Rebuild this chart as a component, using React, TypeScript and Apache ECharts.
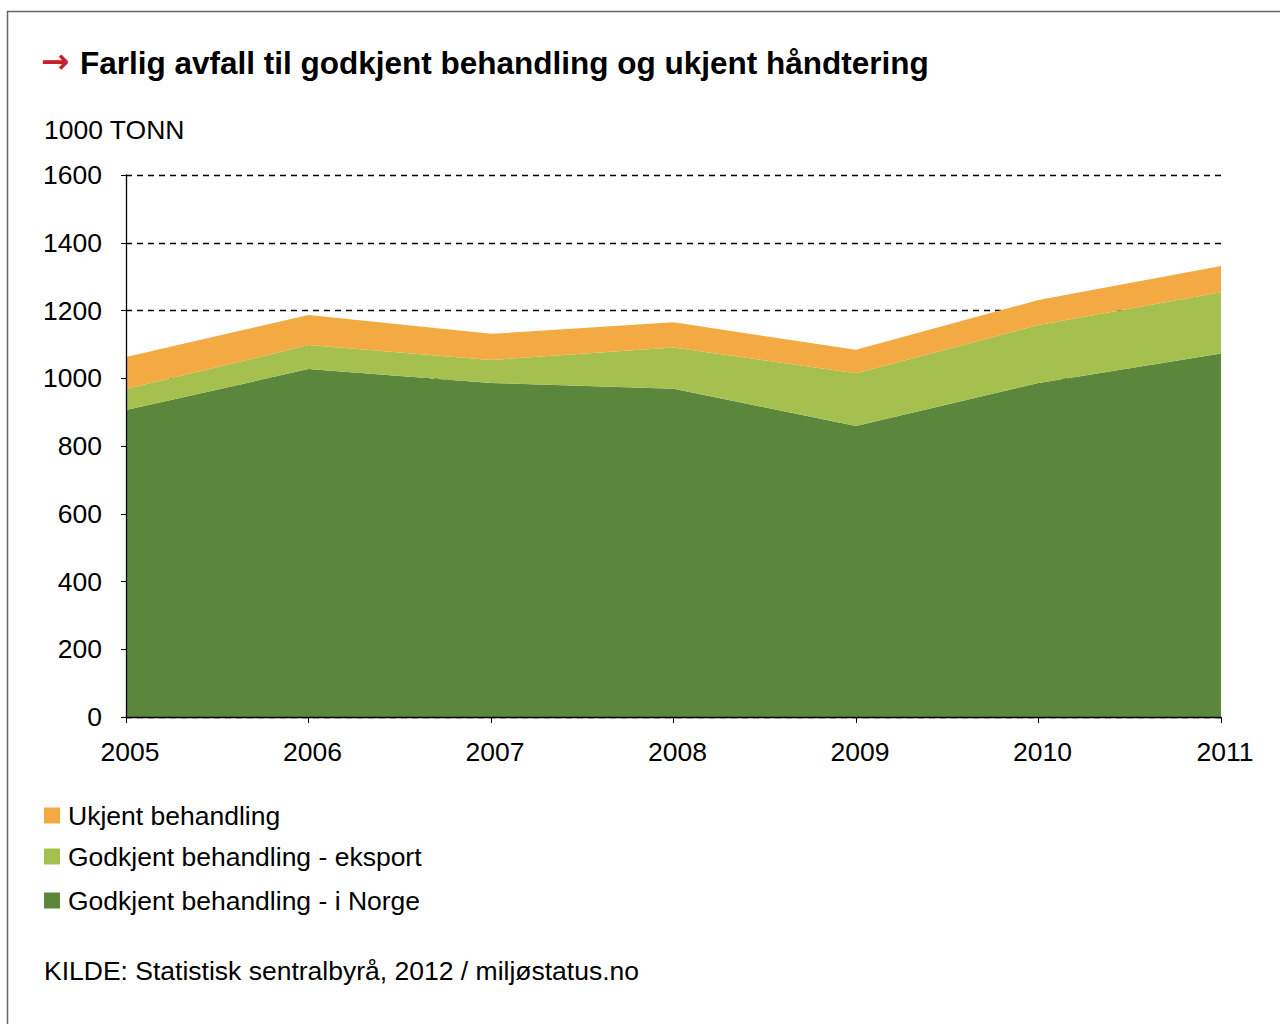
import React, { useEffect, useRef } from "react";
import * as echarts from "echarts";

const years = ["2005", "2006", "2007", "2008", "2009", "2010", "2011"];
const norge = [906, 1027, 986, 969, 859, 986, 1073];
const eksport = [62, 71, 68, 122, 156, 171, 181];
const ukjent = [95, 89, 77, 74, 69, 74, 77];
const yTicks = [0, 200, 400, 600, 800, 1000, 1200, 1400, 1600];

const seriesNames = [
  "Ukjent behandling",
  "Godkjent behandling - eksport",
  "Godkjent behandling - i Norge",
];
const colors = ["#F4AA42", "#A6C050", "#5B873D"];

const FONT = "'Liberation Sans', Arial, sans-serif";
const FS = 26.5;

export default function App() {
  const ref = useRef<HTMLDivElement>(null);
  useEffect(() => {
    if (!ref.current) return;
    const chart = echarts.init(ref.current, null, { renderer: "svg" });
    const legendTops = [802, 843, 887];
    const yMin = yTicks[0];
    const yMax = yTicks[yTicks.length - 1];
    chart.setOption({
      animation: false,
      backgroundColor: "#ffffff",
      textStyle: { fontFamily: FONT },
      grid: { left: 126, right: 59, top: 175, bottom: 307, containLabel: false },
      xAxis: {
        type: "category",
        data: years,
        boundaryGap: false,
        axisLine: { lineStyle: { color: "#000", width: 1.3 } },
        axisTick: { show: true, length: 6, lineStyle: { color: "#000" } },
        axisLabel: { color: "#000", fontSize: FS, margin: 21, fontFamily: FONT, padding: [0, 0, 0, 8] },
        splitLine: { show: false },
        z: 10,
      },
      yAxis: [
        {
          type: "value",
          min: yMin,
          max: yMax,
          interval: 200,
          axisLine: { show: false },
          axisTick: { show: false },
          axisLabel: { show: false },
          splitLine: { show: true, lineStyle: { color: "#000", type: [6, 5], width: 1.3 } },
          z: 0,
        },
        {
          type: "value",
          position: "left",
          min: yMin,
          max: yMax,
          interval: 200,
          axisLine: { show: true, lineStyle: { color: "#000", width: 1.3 } },
          axisTick: { show: true, length: 5, lineStyle: { color: "#000" } },
          axisLabel: {
            color: "#000",
            fontSize: FS,
            margin: 24,
            fontFamily: FONT,
            formatter: (v: number) => String(v),
          },
          splitLine: { show: false },
          z: 10,
        },
      ],
      legend: legendTops.map((t, i) => ({
        data: [seriesNames[i]],
        left: 44,
        top: t,
        icon: "rect",
        itemWidth: 16,
        itemHeight: 16,
        itemGap: 8,
        padding: 0,
        textStyle: { fontSize: FS, color: "#000", fontFamily: FONT, padding: [0, 0, 0, 3] },
        selectedMode: false,
      })),
      graphic: [
        {
          type: "rect",
          shape: { x: 7.5, y: 11.5, width: 1400, height: 1200 },
          style: { fill: "none", stroke: "#666", lineWidth: 1.5 },
          silent: true,
        },
        {
          type: "text",
          left: 41,
          top: 44,
          style: { text: "\u2192", fill: "#C8202A", font: `bold 34px 'DejaVu Sans', sans-serif` },
        },
        {
          type: "text",
          left: 80,
          top: 47,
          style: {
            text: "Farlig avfall til godkjent behandling og ukjent håndtering",
            fill: "#000",
            font: `bold 31.5px ${FONT}`,
          },
        },
        {
          type: "text",
          left: 44,
          top: 116,
          style: { text: "1000 TONN", fill: "#000", font: `${FS}px ${FONT}` },
        },
        {
          type: "text",
          left: 44,
          top: 957,
          style: {
            text: "KILDE: Statistisk sentralbyrå, 2012 / miljøstatus.no",
            fill: "#000",
            font: `${FS}px ${FONT}`,
          },
        },
      ],
      series: [
        {
          name: seriesNames[2],
          type: "line",
          stack: "total",
          yAxisIndex: 0,
          data: norge,
          symbol: "none",
          lineStyle: { width: 0 },
          areaStyle: { color: colors[2], opacity: 1 },
          itemStyle: { color: colors[2] },
          z: 2,
        },
        {
          name: seriesNames[1],
          type: "line",
          stack: "total",
          yAxisIndex: 0,
          data: eksport,
          symbol: "none",
          lineStyle: { width: 0 },
          areaStyle: { color: colors[1], opacity: 1 },
          itemStyle: { color: colors[1] },
          z: 2,
        },
        {
          name: seriesNames[0],
          type: "line",
          stack: "total",
          yAxisIndex: 0,
          data: ukjent,
          symbol: "none",
          lineStyle: { width: 0 },
          areaStyle: { color: colors[0], opacity: 1 },
          itemStyle: { color: colors[0] },
          z: 2,
        },
      ],
    });
    return () => chart.dispose();
  }, []);
  return (
    <div
      ref={ref}
      style={{ position: "absolute", left: 0, top: 0, width: 1280, height: 1024 }}
    />
  );
}
